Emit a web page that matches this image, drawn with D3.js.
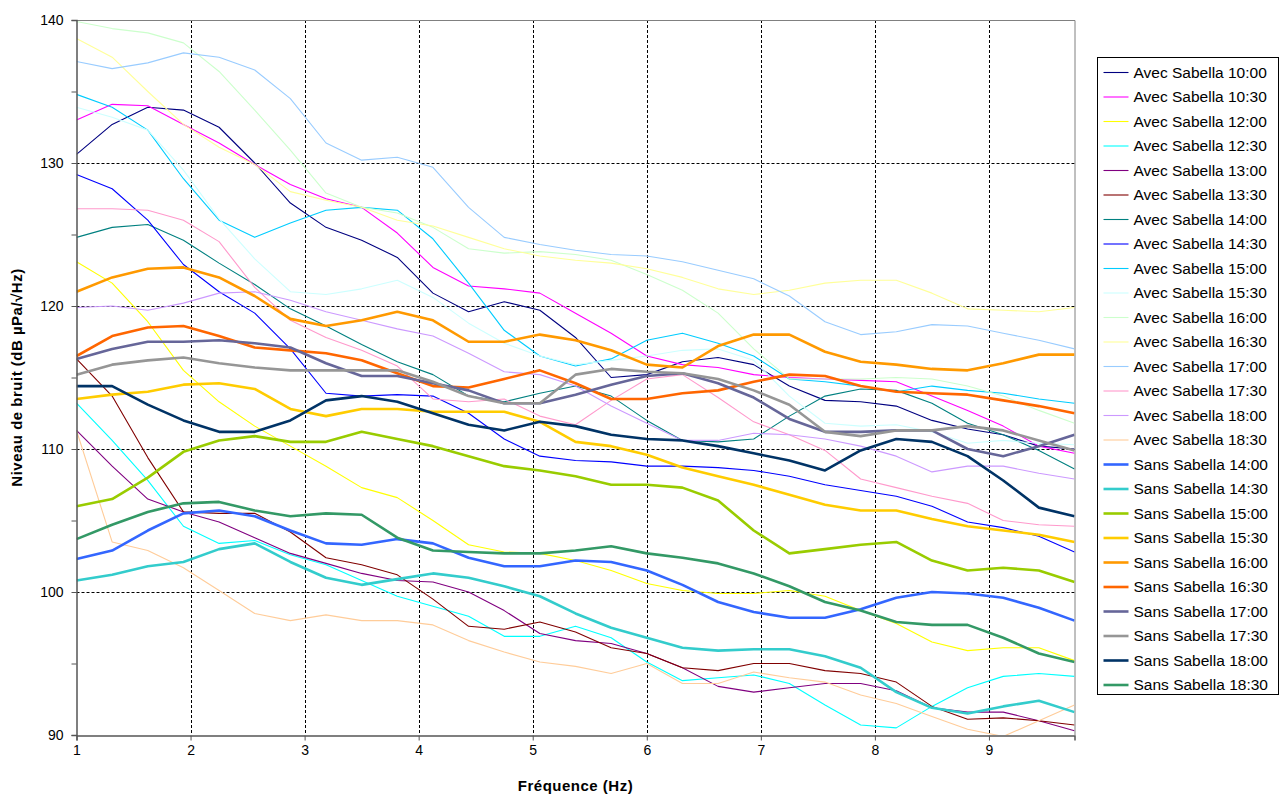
<!DOCTYPE html>
<html>
<head>
<meta charset="utf-8">
<script src="https://cdn.jsdelivr.net/npm/d3@7"></script>
<style>
  html, body { margin: 0; padding: 0; background: #fff; }
  svg { display: block; font-family: "Liberation Sans", Arial, sans-serif; }
</style>
</head>
<body>
<svg id="chart" width="1284" height="796"></svg>
<script>
// Frequency bins (Hz)
const frequencies = [1, 1.3125, 1.625, 1.9375, 2.25, 2.5625, 2.875, 3.1875, 3.5, 3.8125,
  4.125, 4.4375, 4.75, 5.0625, 5.375, 5.6875, 6, 6.3125, 6.625, 6.9375,
  7.25, 7.5625, 7.875, 8.1875, 8.5, 8.8125, 9.125, 9.4375, 9.75];

const xTicks = [1, 2, 3, 4, 5, 6, 7, 8, 9];
const yTicks = [90, 100, 110, 120, 130, 140];
const yMinorTicks = [95, 105, 115, 125, 135];

const seriesNames = [
  "Avec Sabella 10:00", "Avec Sabella 10:30", "Avec Sabella 12:00", "Avec Sabella 12:30",
  "Avec Sabella 13:00", "Avec Sabella 13:30", "Avec Sabella 14:00", "Avec Sabella 14:30",
  "Avec Sabella 15:00", "Avec Sabella 15:30", "Avec Sabella 16:00", "Avec Sabella 16:30",
  "Avec Sabella 17:00", "Avec Sabella 17:30", "Avec Sabella 18:00", "Avec Sabella 18:30",
  "Sans Sabella 14:00", "Sans Sabella 14:30", "Sans Sabella 15:00", "Sans Sabella 15:30",
  "Sans Sabella 16:00", "Sans Sabella 16:30", "Sans Sabella 17:00", "Sans Sabella 17:30",
  "Sans Sabella 18:00", "Sans Sabella 18:30"
];

// Noise level (dB re 1 µPa/√Hz), one array per recording
const avec1000 = [130.6, 132.7, 133.9, 133.7, 132.5, 130.0, 127.2, 125.5, 124.6, 123.4, 120.9, 119.6, 120.3, 119.7, 117.8, 115.0, 115.2, 116.1, 116.4, 115.9, 114.4, 113.4, 113.3, 113.0, 112.0, 111.4, 111.0, 110.2, 110.0];
const avec1030 = [133.0, 134.1, 134.0, 132.7, 131.4, 129.9, 128.5, 127.5, 126.9, 125.1, 122.7, 121.4, 121.2, 120.9, 119.5, 118.1, 116.5, 115.9, 115.7, 115.2, 115.0, 114.9, 114.8, 114.7, 113.7, 112.7, 111.6, 110.2, 109.7];
const avec1200 = [123.1, 121.6, 118.9, 115.5, 113.3, 111.6, 110.2, 108.8, 107.3, 106.6, 105.0, 103.3, 102.8, 102.7, 102.2, 101.5, 100.6, 100.1, 99.9, 99.9, 100.1, 99.7, 98.7, 97.8, 96.5, 95.9, 96.1, 96.1, 95.2];
const avec1230 = [113.2, 110.6, 107.8, 104.6, 103.4, 103.6, 102.6, 101.9, 100.8, 99.7, 99.0, 98.3, 96.9, 96.9, 97.6, 96.8, 95.1, 93.8, 94.0, 94.2, 93.6, 92.1, 90.7, 90.5, 92.0, 93.3, 94.1, 94.3, 94.1];
const avec1300 = [111.3, 108.8, 106.5, 105.6, 104.9, 103.8, 102.7, 102.0, 101.3, 100.8, 100.7, 100.0, 98.7, 97.1, 96.6, 96.4, 95.7, 94.7, 93.4, 93.0, 93.3, 93.6, 93.6, 93.1, 91.9, 91.6, 91.6, 91.0, 90.3];
const avec1330 = [116.3, 113.7, 109.4, 105.6, 105.5, 105.5, 104.2, 102.4, 101.9, 101.2, 99.5, 97.6, 97.4, 97.9, 97.2, 96.1, 95.7, 94.7, 94.5, 95.0, 95.0, 94.5, 94.3, 93.7, 92.0, 91.1, 91.2, 91.0, 90.7];
const avec1400 = [124.8, 125.5, 125.7, 124.6, 123.0, 121.5, 119.8, 118.6, 117.3, 116.1, 115.2, 113.7, 113.3, 113.9, 114.4, 113.7, 112.0, 110.6, 110.5, 110.7, 112.3, 113.7, 114.2, 114.1, 113.2, 111.8, 111.0, 109.9, 108.6];
const avec1430 = [129.2, 128.2, 126.0, 122.9, 121.0, 119.5, 117.0, 113.9, 113.7, 113.8, 113.7, 112.5, 110.7, 109.5, 109.2, 109.1, 108.8, 108.8, 108.7, 108.5, 108.1, 107.5, 107.1, 106.7, 106.0, 104.9, 104.5, 103.9, 102.8];
const avec1500 = [134.8, 133.9, 132.3, 128.9, 126.0, 124.8, 125.8, 126.7, 126.9, 126.7, 124.7, 121.6, 118.3, 116.5, 115.8, 116.3, 117.6, 118.1, 117.4, 116.5, 114.9, 114.7, 114.4, 114.0, 114.4, 114.1, 113.9, 113.5, 113.2];
const avec1530 = [133.9, 133.2, 132.3, 129.5, 126.1, 123.3, 121.0, 120.8, 121.2, 121.8, 120.6, 118.8, 117.4, 116.5, 115.9, 116.2, 116.5, 116.9, 117.0, 116.2, 113.7, 111.8, 111.6, 111.7, 111.2, 110.4, 110.6, 110.4, 110.3];
const avec1600 = [139.9, 139.4, 139.1, 138.4, 136.4, 133.7, 130.9, 127.9, 126.9, 126.5, 125.5, 124.0, 123.7, 123.8, 123.6, 123.2, 122.2, 121.1, 119.5, 117.0, 114.9, 114.9, 114.9, 115.0, 114.9, 114.4, 113.7, 112.7, 111.8];
const avec1630 = [138.7, 137.4, 135.0, 132.7, 131.1, 129.9, 128.0, 127.4, 126.9, 126.0, 125.6, 124.8, 124.0, 123.5, 123.2, 123.0, 122.6, 122.0, 121.2, 120.8, 121.1, 121.6, 121.8, 121.8, 120.9, 119.8, 119.7, 119.6, 119.9];
const avec1700 = [137.1, 136.6, 137.0, 137.7, 137.4, 136.5, 134.5, 131.4, 130.2, 130.4, 129.7, 126.9, 124.8, 124.3, 123.9, 123.6, 123.5, 123.1, 122.5, 121.9, 120.7, 118.9, 118.0, 118.2, 118.7, 118.6, 118.1, 117.6, 117.0];
const avec1730 = [126.8, 126.8, 126.7, 126.0, 124.5, 121.3, 119.0, 117.8, 116.9, 115.8, 113.5, 113.3, 113.5, 112.3, 111.7, 113.4, 114.9, 115.2, 113.6, 111.9, 111.0, 109.9, 107.9, 107.3, 106.7, 106.2, 105.0, 104.7, 104.6];
const avec1800 = [119.9, 120.0, 119.7, 120.2, 120.9, 121.0, 120.4, 119.6, 119.0, 118.4, 117.9, 116.7, 115.4, 115.2, 114.4, 113.0, 111.8, 110.6, 110.6, 111.1, 111.0, 110.7, 110.2, 109.5, 108.4, 108.8, 108.8, 108.3, 107.9];
const avec1830 = [111.3, 103.5, 102.9, 101.7, 100.1, 98.5, 98.0, 98.4, 98.0, 98.0, 97.7, 96.6, 95.8, 95.1, 94.8, 94.3, 95.0, 93.6, 93.6, 94.4, 94.0, 93.7, 92.8, 92.2, 91.3, 90.4, 89.9, 91.0, 92.1];
const sans1400 = [102.3, 102.9, 104.3, 105.5, 105.7, 105.3, 104.3, 103.4, 103.3, 103.7, 103.4, 102.4, 101.8, 101.8, 102.2, 102.1, 101.5, 100.5, 99.3, 98.6, 98.2, 98.2, 98.8, 99.6, 100.0, 99.9, 99.6, 98.9, 98.0];
const sans1430 = [100.8, 101.2, 101.8, 102.1, 103.0, 103.4, 102.1, 101.0, 100.5, 100.9, 101.3, 101.0, 100.4, 99.7, 98.5, 97.5, 96.8, 96.1, 95.9, 96.0, 96.0, 95.5, 94.7, 93.0, 91.9, 91.5, 92.0, 92.4, 91.6];
const sans1500 = [106.0, 106.5, 108.0, 109.8, 110.6, 110.9, 110.5, 110.5, 111.2, 110.7, 110.2, 109.5, 108.8, 108.5, 108.1, 107.5, 107.5, 107.3, 106.4, 104.3, 102.7, 103.0, 103.3, 103.5, 102.2, 101.5, 101.7, 101.5, 100.7];
const sans1530 = [113.5, 113.8, 114.0, 114.5, 114.6, 114.2, 112.8, 112.3, 112.8, 112.8, 112.6, 112.6, 112.6, 111.9, 110.5, 110.2, 109.6, 108.7, 108.1, 107.5, 106.8, 106.1, 105.7, 105.7, 105.1, 104.6, 104.3, 104.0, 103.5];
const sans1600 = [121.0, 122.0, 122.6, 122.7, 122.0, 120.7, 119.1, 118.6, 119.0, 119.6, 119.0, 117.5, 117.5, 118.0, 117.6, 116.9, 115.9, 115.7, 117.2, 118.0, 118.0, 116.8, 116.1, 115.9, 115.6, 115.5, 116.0, 116.6, 116.6];
const sans1630 = [116.5, 117.9, 118.5, 118.6, 117.9, 117.1, 116.9, 116.7, 116.2, 115.3, 114.4, 114.3, 114.9, 115.5, 114.6, 113.5, 113.5, 113.9, 114.1, 114.7, 115.2, 115.1, 114.4, 114.0, 113.9, 113.8, 113.4, 113.0, 112.5];
const sans1700 = [116.3, 117.0, 117.5, 117.5, 117.6, 117.4, 117.1, 116.0, 115.1, 115.1, 114.6, 114.1, 113.2, 113.2, 113.8, 114.5, 115.1, 115.3, 114.6, 113.6, 112.1, 111.2, 111.2, 111.3, 111.3, 110.0, 109.5, 110.2, 111.0];
const sans1730 = [115.2, 115.9, 116.2, 116.4, 116.0, 115.7, 115.5, 115.5, 115.5, 115.5, 114.7, 113.7, 113.2, 113.2, 115.2, 115.6, 115.4, 115.3, 114.9, 114.1, 113.1, 111.2, 110.9, 111.3, 111.3, 111.6, 111.3, 110.6, 109.9];
const sans1800 = [114.4, 114.4, 113.1, 112.0, 111.2, 111.2, 112.0, 113.4, 113.7, 113.3, 112.5, 111.7, 111.3, 111.9, 111.6, 111.0, 110.7, 110.6, 110.2, 109.7, 109.2, 108.5, 109.9, 110.7, 110.5, 109.5, 107.8, 105.9, 105.3];
const sans1830 = [103.7, 104.7, 105.6, 106.2, 106.3, 105.7, 105.3, 105.5, 105.4, 103.8, 102.9, 102.8, 102.7, 102.7, 102.9, 103.2, 102.7, 102.4, 102.0, 101.3, 100.4, 99.3, 98.7, 97.9, 97.7, 97.7, 96.8, 95.7, 95.1];

const seriesValues = [avec1000, avec1030, avec1200, avec1230, avec1300, avec1330, avec1400, avec1430,
  avec1500, avec1530, avec1600, avec1630, avec1700, avec1730, avec1800, avec1830,
  sans1400, sans1430, sans1500, sans1530, sans1600, sans1630, sans1700, sans1730, sans1800, sans1830];

const seriesColors = ["#000080", "#FF00FF", "#FFFF00", "#00FFFF", "#800080", "#800000", "#008080", "#0000FF",
  "#00CCFF", "#CCFFFF", "#CCFFCC", "#FFFF99", "#99CCFF", "#FF99CC", "#CC99FF", "#FFCC99",
  "#3366FF", "#33CCCC", "#99CC00", "#FFCC00", "#FF9900", "#FF6600", "#666699", "#969696", "#003366", "#339966"];

const svg = d3.select("#chart");
const plot = { left: 76.5, top: 20, right: 1074.5, bottom: 735 };

const x = d3.scaleLinear().domain([1, 9.75]).range([plot.left, plot.right]);
const y = d3.scaleLinear().domain([90, 140]).range([plot.bottom, plot.top]);

// Gridlines
const grid = svg.append("g").attr("stroke", "#000").attr("stroke-width", 1).attr("stroke-dasharray", "3,2");
grid.selectAll("line.v").data(xTicks.filter(d => d > 1)).join("line")
  .attr("x1", d => Math.round(x(d)) + 0.5).attr("x2", d => Math.round(x(d)) + 0.5)
  .attr("y1", plot.top).attr("y2", plot.bottom);
grid.selectAll("line.h").data(yTicks.filter(d => d > 90 && d < 140)).join("line")
  .attr("x1", plot.left).attr("x2", plot.right)
  .attr("y1", d => Math.round(y(d)) + 0.5).attr("y2", d => Math.round(y(d)) + 0.5);

// Plot frame (top and right)
svg.append("path")
  .attr("d", `M${plot.left},${plot.top + 0.5}H${plot.right + 0.5}V${plot.bottom}`)
  .attr("fill", "none").attr("stroke", "#808080").attr("stroke-width", 1);

// Series lines
svg.append("defs").append("clipPath").attr("id", "plotClip")
  .append("rect").attr("x", plot.left).attr("y", plot.top)
  .attr("width", plot.right - plot.left).attr("height", plot.bottom - plot.top);

const line = d3.line().x((d, i) => x(frequencies[i])).y(d => y(d));
const lines = svg.append("g").attr("clip-path", "url(#plotClip)");
seriesValues.forEach((vals, i) => {
  lines.append("path")
    .datum(vals)
    .attr("d", line)
    .attr("fill", "none")
    .attr("stroke", seriesColors[i])
    .attr("stroke-width", i >= 16 ? 2.6 : 1.1)
    .attr("stroke-linejoin", "round");
});

// Axes
const xAxis = d3.axisBottom(x).tickValues(xTicks).tickSize(5).tickPadding(5).tickFormat(d3.format("d"));
const gx = svg.append("g").attr("transform", `translate(0,${plot.bottom + 0.5})`).call(xAxis);
const yAxis = d3.axisLeft(y).tickValues(yTicks).tickSize(5).tickPadding(8).tickFormat(d3.format("d"));
const gy = svg.append("g").attr("transform", `translate(${plot.left},0)`).call(yAxis);
svg.append("g").attr("transform", `translate(${plot.left},0)`)
  .call(d3.axisLeft(y).tickValues(yMinorTicks).tickSize(5).tickFormat(""))
  .select(".domain").remove();

svg.selectAll(".domain").attr("stroke", "#555").attr("stroke-width", 1.5);
svg.selectAll(".tick line").attr("stroke", "#555");
svg.selectAll(".tick text").attr("font-size", 14).attr("fill", "#000")
  .attr("font-family", "'Liberation Sans', Arial, sans-serif");

// Axis titles
svg.append("text")
  .attr("transform", `translate(22,${(plot.top + plot.bottom) / 2}) rotate(-90)`)
  .attr("text-anchor", "middle")
  .attr("font-size", 15).attr("font-weight", "bold").attr("letter-spacing", 0.5)
  .text("Niveau de bruit (dB µPa/√Hz)");
svg.append("text")
  .attr("x", (plot.left + plot.right) / 2).attr("y", 791)
  .attr("text-anchor", "middle")
  .attr("font-size", 15).attr("font-weight", "bold").attr("letter-spacing", 0.5)
  .text("Fréquence (Hz)");

// Legend
const legend = svg.append("g").attr("transform", "translate(1097.5,57.5)");
legend.append("rect").attr("width", 181).attr("height", 637)
  .attr("fill", "#fff").attr("stroke", "#000").attr("stroke-width", 1);
const entries = legend.selectAll("g.entry").data(seriesNames).join("g")
  .attr("transform", (d, i) => `translate(0,${15 + i * 24.5})`);
entries.append("line")
  .attr("x1", 6).attr("x2", 31).attr("y1", 0).attr("y2", 0)
  .attr("stroke", (d, i) => seriesColors[i])
  .attr("stroke-width", (d, i) => i >= 16 ? 2.6 : 1.1);
entries.append("text")
  .attr("x", 36).attr("y", 5)
  .attr("font-size", 15.5).attr("fill", "#000")
  .text(d => d);
</script>
</body>
</html>
